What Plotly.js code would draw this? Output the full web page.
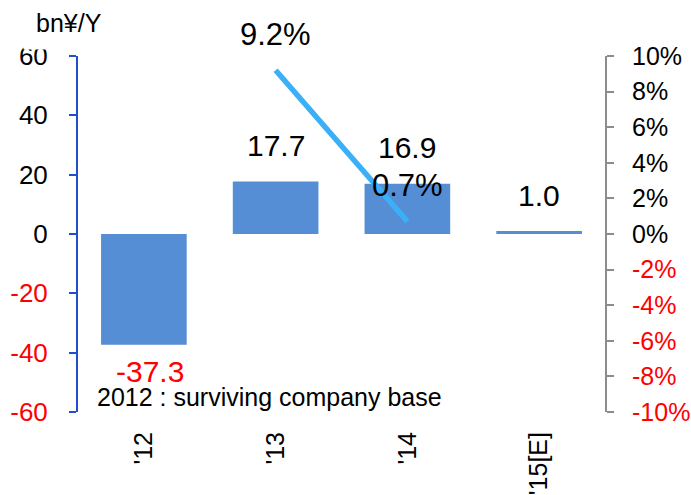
<!DOCTYPE html>
<html>
<head>
<meta charset="utf-8">
<script src="https://cdn.plot.ly/plotly-3.0.1.min.js"></script>
<style>
  html, body { margin: 0; padding: 0; background: #ffffff; }
  #chart { width: 691px; height: 495px; }
</style>
</head>
<body>
<div id="chart"></div>
<script>
// Fiscal years on the category axis
const years = ["'12", "'13", "'14", "'15[E]"];
// Operating profit, bn yen (left axis)
const profit = [-37.3, 17.7, 16.9, 1.0];
// Profit margin, % (right axis)
const marginPct = [null, 9.2, 0.7, null];
// Axis ticks
const leftTicks = [-60, -40, -20, 0, 20, 40, 60];
const rightTicks = [-10, -8, -6, -4, -2, 0, 2, 4, 6, 8, 10];
const unitLabel = 'bn¥/Y';
const noteText = '2012 : surviving company base';

const RED = '#ff0000';
const BAR = '#558ed5';
const LINE = '#3cb0f7';
const AXIS_BLUE = '#1f4fcc';
const GREY = '#8c8c8c';
const FONT = 'Liberation Sans, Arial, sans-serif';

const idx = years.map((_, i) => i);

function colorTick(v, s) {
  return v < 0 ? '<span style="color:' + RED + '">' + s + '</span>' : s;
}

const traces = [
  {
    type: 'bar',
    x: idx,
    y: profit,
    marker: { color: BAR },
    width: 0.65,
    xaxis: 'x',
    yaxis: 'y',
    hoverinfo: 'skip'
  },
  {
    type: 'scatter',
    mode: 'lines',
    x: idx,
    y: marginPct,
    line: { color: LINE, width: 5.5 },
    xaxis: 'x',
    yaxis: 'y2',
    connectgaps: false,
    hoverinfo: 'skip'
  }
];

const annotations = [];
// value labels above (or below) each bar
profit.forEach((v, i) => {
  annotations.push({
    x: i, y: v, xref: 'x', yref: 'y',
    text: v.toFixed(1),
    showarrow: false,
    yanchor: 'middle',
    yshift: v < 0 ? -27 : 36,
    xshift: v < 0 ? 6 : 0,
    font: { family: FONT, size: 30, color: v < 0 ? RED : '#000000' }
  });
});
// margin labels above the line points
marginPct.forEach((v, i) => {
  if (v === null) return;
  annotations.push({
    x: i, y: v, xref: 'x', yref: 'y2',
    text: v.toFixed(1) + '%',
    showarrow: false,
    yanchor: 'middle',
    yshift: 36,
    font: { family: FONT, size: 31, color: '#000000' }
  });
});
annotations.push({
  xref: 'paper', yref: 'paper', x: 0.032, y: 0.042,
  xanchor: 'left', yanchor: 'middle',
  text: noteText, showarrow: false,
  font: { family: FONT, size: 25, color: '#000000' }
});
// unit label sits in a white box that trims the top of the "60" tick
annotations.push({
  xref: 'paper', yref: 'paper', x: -0.105, y: 1.0,
  xanchor: 'left', yanchor: 'bottom', yshift: 6,
  text: unitLabel, showarrow: false,
  bgcolor: '#ffffff', borderpad: 12,
  font: { family: FONT, size: 25, color: '#000000' }
});

const layout = {
  width: 691,
  height: 495,
  margin: { l: 78, r: 86, t: 56, b: 83 },
  paper_bgcolor: '#ffffff',
  plot_bgcolor: '#ffffff',
  showlegend: false,
  font: { family: FONT, size: 25, color: '#000000' },
  xaxis: {
    range: [-0.5, 3.5],
    tickvals: idx,
    ticktext: years,
    tickangle: -90,
    showline: false,
    showgrid: false,
    zeroline: false,
    ticks: '',
    ticklabelstandoff: 14,
    tickfont: { family: FONT, size: 25, color: '#000000' },
    fixedrange: true
  },
  // category baseline drawn at the zero level, with boundary ticks
  xaxis2: {
    overlaying: 'x',
    matches: 'x',
    anchor: 'free',
    position: 0.5,
    tickvals: [-0.5, 0.5, 1.5, 2.5, 3.5],
    showticklabels: false,
    showline: true,
    linecolor: GREY,
    linewidth: 2,
    ticks: 'outside',
    ticklen: 8,
    tickwidth: 2,
    tickcolor: GREY,
    showgrid: false,
    zeroline: false
  },
  yaxis: {
    range: [-60, 60],
    tickvals: leftTicks,
    ticktext: leftTicks.map(v => colorTick(v, String(v))),
    showline: true,
    linecolor: AXIS_BLUE,
    linewidth: 2,
    ticks: 'outside',
    ticklen: 7,
    tickwidth: 2,
    tickcolor: AXIS_BLUE,
    showgrid: false,
    zeroline: false,
    ticklabelstandoff: 16,
    tickfont: { family: FONT, size: 26 }
  },
  yaxis2: {
    range: [-10, 10],
    overlaying: 'y',
    side: 'right',
    tickvals: rightTicks,
    ticktext: rightTicks.map(v => colorTick(v, v + '%')),
    showline: true,
    linecolor: GREY,
    linewidth: 2,
    ticks: 'outside',
    ticklen: 7,
    tickwidth: 2,
    tickcolor: GREY,
    showgrid: false,
    zeroline: false,
    ticklabelstandoff: 13,
    tickfont: { family: FONT, size: 25 }
  },
  annotations: annotations
};

Plotly.newPlot('chart', traces, layout, { displayModeBar: false, staticPlot: true });
</script>
</body>
</html>
